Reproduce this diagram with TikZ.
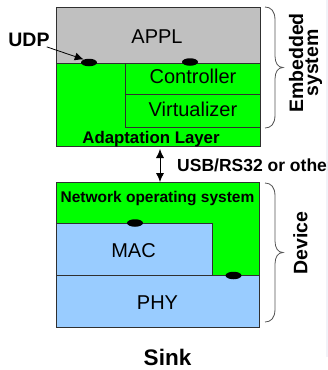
\documentclass[tikz,border=0pt]{standalone}
\usepackage{fontspec}
\setmainfont{Liberation Sans}
\usetikzlibrary{arrows.meta,shapes.geometric}
\definecolor{grayfill}{HTML}{C0C0C0}
\definecolor{greenfill}{HTML}{00FF00}
\definecolor{bluefill}{HTML}{99CCFF}
\definecolor{edgecol}{HTML}{303030}
\definecolor{bracecol}{HTML}{555555}
\definecolor{stripecol}{HTML}{F2F2F8}
\tikzset{mytip/.tip={Latex[length=9pt,width=8pt]}}
\begin{document}
\begin{tikzpicture}[x=1pt,y=-1pt,
  box/.style={draw=edgecol, line width=0.8pt, inner sep=0pt, outer sep=0pt, anchor=north west},
  lbl/.style={font=\fontsize{20}{24}\selectfont, anchor=base, inner sep=0pt},
  blbl/.style={font=\bfseries\fontsize{#1}{#1}\selectfont, anchor=base, inner sep=0pt},
  rlbl/.style={font=\bfseries\fontsize{19.5}{15}\selectfont, rotate=90, align=center, inner sep=0pt},
  port/.style={ellipse, fill=black, minimum width=16pt, minimum height=7.5pt, inner sep=0pt},
  bracestyle/.style={draw=bracecol, line width=0.8pt}
]
\useasboundingbox (0,0) rectangle (328,370);
\clip (0,0) rectangle (328,370);
\fill[stripecol] (326,0) rectangle (328,357);

% ---- Embedded system ----
\node[box, fill=grayfill, minimum width=204pt, minimum height=56pt] (appl) at (56,7) {};
\node[box, fill=greenfill, minimum width=204pt, minimum height=83pt] (adapt) at (56,63) {};
\node[box, fill=greenfill, minimum width=135pt, minimum height=31pt] (ctrl) at (125,63) {};
\node[box, fill=greenfill, minimum width=135pt, minimum height=33pt] (virt) at (125,94) {};

\node[lbl] (appltxt) at (157,43) {APPL};
\node[lbl] (ctrltxt) at (193,83) {Controller};
\node[lbl] (virttxt) at (193,116) {Virtualizer};
\begin{scope}
  \clip (56,63) rectangle (260,146);
  \node[blbl=16.8] (adapttxt) at (151,143) {Adaptation Layer};
\end{scope}

\node[port] (p1) at (89,62.5) {};
\node[port] (p2) at (190,62) {};

\node[blbl=19.5] (udp) at (29,46.5) {UDP};
\draw[-{mytip}, line width=0.8pt] ([xshift=-3pt]udp.south east) -- (p1.150);

% ---- Device ----
\node[box, fill=greenfill, minimum width=203pt, minimum height=93pt] (nos) at (56,182) {};
\node[box, fill=bluefill, minimum width=156pt, minimum height=52pt] (mac) at (56,223) {};
\node[box, fill=bluefill, minimum width=203pt, minimum height=52pt] (phy) at (56,275) {};

\node[blbl=15.5] (nostxt) at (157.5,202) {Network operating system};
\node[lbl] (mactxt) at (133.5,257) {MAC};
\node[lbl] (phytxt) at (157.5,309) {PHY};

\node[port] (p3) at (135,223) {};
\node[port] (p4) at (233.5,275.5) {};

% ---- link ----
\draw[{mytip}-{mytip}, line width=0.8pt] ([xshift=2pt,yshift=-3pt]adapt.south) -- ([xshift=2.5pt]nos.north);
\node[blbl=17.5, anchor=base west] (usb) at (177,171) {USB/RS32 or other};

% ---- braces ----
\draw[bracestyle] (265,7) .. controls (271,7) and (275,11) .. (275,20) -- (275,56)
  .. controls (275,63) and (278,67.5) .. (283,67.5)
  .. controls (278,67.5) and (275,72) .. (275,79) -- (275,115)
  .. controls (275,124) and (271,128) .. (265,128);
\node[rlbl] (emb) at (305.5,63) {Embedded\\system};
\draw[bracestyle] (265,183) .. controls (271,183) and (275,187) .. (275,196) -- (275,241)
  .. controls (275,248) and (278,252.5) .. (283,252.5)
  .. controls (278,252.5) and (275,257) .. (275,264) -- (275,309)
  .. controls (275,318) and (271,322) .. (265,322);
\node[rlbl] (dev) at (300.5,243) {Device};

\node[blbl=22.5] (sink) at (167.5,365.5) {Sink};
\end{tikzpicture}
\end{document}
